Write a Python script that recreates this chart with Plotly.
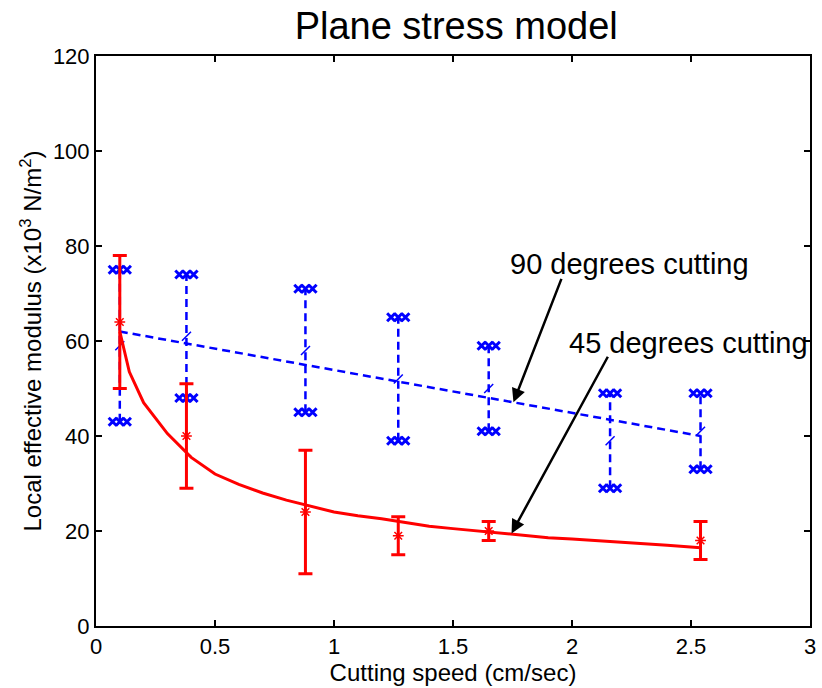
import plotly.graph_objects as go

# ---- data ----
speed = [0.1, 0.38, 0.88, 1.27, 1.65, 2.16, 2.54]
deg90_upper = [75, 74, 71, 65, 59, 49, 49]
deg90_lower = [43, 48, 45, 39, 41, 29, 33]
deg90_fit_x = [0.1, 2.54]
deg90_fit_y = [62, 40]

speed45 = [0.1, 0.38, 0.88, 1.27, 1.65, 2.54]
deg45_mean = [64, 40, 24, 19, 20, 18]
deg45_upper = [78, 51, 37, 23, 22, 22]
deg45_lower = [50, 29, 11, 15, 18, 14]
deg45_fit_x = [0.1, 0.14, 0.2, 0.3, 0.4, 0.5, 0.6, 0.7, 0.8, 0.9, 1.0, 1.1, 1.2,
               1.3, 1.4, 1.5, 1.6, 1.7, 1.8, 1.9, 2.0, 2.1, 2.2, 2.3, 2.4, 2.54]
deg45_fit_y = [62, 53.5, 47, 40.5, 35.5, 32, 29.8, 28, 26.5, 25.2, 24, 23.2, 22.6,
               21.8, 21, 20.5, 20, 19.5, 19, 18.6, 18.3, 18, 17.6, 17.3, 17, 16.5]

x_ticks = [0, 0.5, 1, 1.5, 2, 2.5, 3]
x_tick_text = ["0", "0.5", "1", "1.5", "2", "2.5", "3"]
y_ticks = [0, 20, 40, 60, 80, 100, 120]

BLUE = "#0000FF"
RED = "#FF0000"
FONT = "Liberation Sans, Arial, sans-serif"

fig = go.Figure()

# blue dashed vertical ranges
vx, vy = [], []
for x, lo, hi in zip(speed, deg90_lower, deg90_upper):
    vx += [x, x, None]
    vy += [lo, hi, None]
fig.add_trace(go.Scatter(x=vx, y=vy, mode="lines",
                         line=dict(color=BLUE, width=2.5, dash="8px,5px"),
                         hoverinfo="skip", showlegend=False))

# blue trend line
fig.add_trace(go.Scatter(x=deg90_fit_x, y=deg90_fit_y, mode="lines",
                         line=dict(color=BLUE, width=2.5, dash="8px,5px"),
                         showlegend=False))

# blue caps: three x markers side by side
off = 0.03
cx, cy = [], []
for x, lo, hi in zip(speed, deg90_lower, deg90_upper):
    for d in (-off, 0, off):
        cx += [x + d, x + d]
        cy += [lo, hi]
fig.add_trace(go.Scatter(x=cx, y=cy, mode="markers",
                         marker=dict(symbol="x-thin", size=8, color=BLUE,
                                     line=dict(color=BLUE, width=3)),
                         showlegend=False))

# blue centre marks
mid = [(a + b) / 2 for a, b in zip(deg90_lower, deg90_upper)]
fig.add_trace(go.Scatter(x=speed, y=mid, mode="markers",
                         marker=dict(symbol="line-ne", size=9, color=BLUE,
                                     line=dict(color=BLUE, width=1.5)),
                         showlegend=False))

# red fitted curve
fig.add_trace(go.Scatter(x=deg45_fit_x, y=deg45_fit_y, mode="lines",
                         line=dict(color=RED, width=3), showlegend=False))

# red error bars with star markers
fig.add_trace(go.Scatter(
    x=speed45, y=deg45_mean, mode="markers",
    marker=dict(symbol="asterisk", size=9, color=RED, line=dict(color=RED, width=1.5)),
    error_y=dict(type="data", symmetric=False,
                 array=[u - m for u, m in zip(deg45_upper, deg45_mean)],
                 arrayminus=[m - l for m, l in zip(deg45_mean, deg45_lower)],
                 color=RED, thickness=3, width=7),
    showlegend=False))

# annotations (arrows and labels)
arrows = [
    dict(tip=(1.754, 47.1), tail=(1.958, 73.4)),
    dict(tip=(1.746, 19.5), tail=(2.154, 57.0)),
]
for a in arrows:
    fig.add_annotation(x=a["tip"][0], y=a["tip"][1], ax=a["tail"][0], ay=a["tail"][1],
                       xref="x", yref="y", axref="x", ayref="y", text="",
                       showarrow=True, arrowhead=2, arrowsize=1.1, arrowwidth=2.5,
                       arrowcolor="black")
fig.add_annotation(x=2.242, y=76.3, xref="x", yref="y", text="90 degrees cutting",
                   showarrow=False, font=dict(family=FONT, size=29, color="black"))
fig.add_annotation(x=2.49, y=59.5, xref="x", yref="y", text="45 degrees cutting",
                   showarrow=False, font=dict(family=FONT, size=29, color="black"))

fig.update_layout(
    width=822, height=688,
    margin=dict(l=96, r=6, t=56, b=62),
    paper_bgcolor="white", plot_bgcolor="white",
    font=dict(family=FONT, color="black"),
    title=dict(text="Plane stress model", x=0.555, xanchor="center", y=0.963,
               yanchor="middle", font=dict(family=FONT, size=38, color="black")),
    showlegend=False,
)
fig.update_xaxes(range=[0, 3], tickvals=x_ticks, ticktext=x_tick_text,
                 showgrid=False, zeroline=False, showline=True, linecolor="black",
                 linewidth=2, mirror="ticks", ticks="inside", ticklen=6, tickwidth=1.5,
                 tickcolor="black", tickfont=dict(size=22, family=FONT),
                 title=dict(text="Cutting speed (cm/sec)", standoff=0,
                            font=dict(size=24, family=FONT)))
fig.update_yaxes(range=[0, 120], tickvals=y_ticks,
                 showgrid=False, zeroline=False, showline=True, linecolor="black",
                 linewidth=2, mirror="ticks", ticks="inside", ticklen=6, tickwidth=1.5,
                 tickcolor="black", tickfont=dict(size=22, family=FONT),
                 title=dict(text="Local effective modulus (x10<sup>3</sup> N/m<sup>2</sup>)",
                            standoff=4, font=dict(size=24, family=FONT)))

fig.write_html("out.html")
